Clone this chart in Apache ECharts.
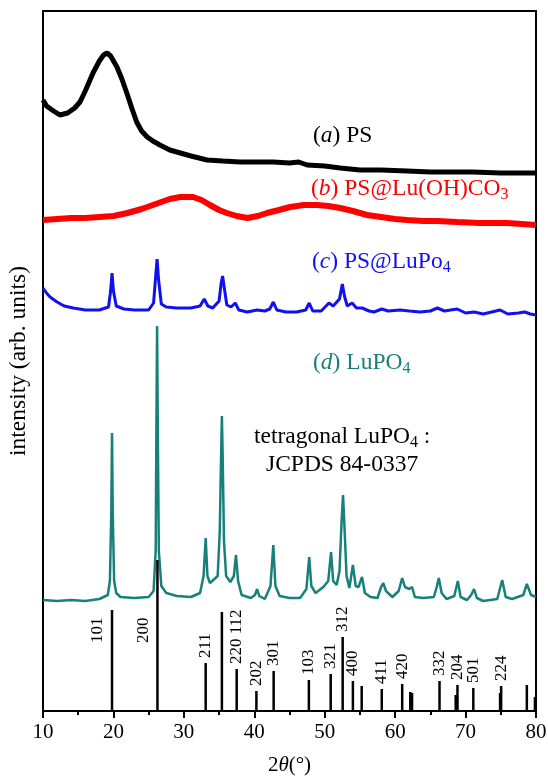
<!DOCTYPE html>
<html>
<head>
<meta charset="utf-8">
<script src="https://cdn.jsdelivr.net/npm/echarts@6/dist/echarts.min.js"></script>
<style>
  html, body { margin: 0; padding: 0; background: #fff; }
  #xrd-chart { width: 548px; height: 776px; }
</style>
</head>
<body>
<div id="xrd-chart"></div>
<script>
// x ticks
const xTicks = [10, 20, 30, 40, 50, 60, 70, 80];

// (a) PS, [2theta, intensity]
const psPoints = [
  [10, 611], [10.5, 605], [11.5, 600], [12.4, 596], [13.5, 598], [14.5, 603], [15.25, 609],
  [16, 620], [17.1, 638], [18, 650], [18.6, 656], [19.1, 658], [19.6, 655], [20.5, 644],
  [21.2, 632], [21.9, 618], [22.6, 603], [23.3, 589], [24, 580], [24.8, 574], [25.6, 570],
  [26.6, 566], [28, 561], [29.5, 558], [31, 555], [33.3, 551], [35.5, 550], [38, 549],
  [40, 549], [42.7, 549], [45, 548], [46.3, 549], [47.5, 546], [50, 545], [52.2, 543],
  [55, 541], [58, 541], [61.7, 540], [65, 539], [68, 539], [71, 539], [75, 538], [78, 538], [80, 538]
];

// (b) PS@Lu(OH)CO3
const psLuOHCO3Points = [
  [10, 491], [12, 492], [14, 493], [16, 493], [18, 494], [20, 495], [22, 498], [24, 502],
  [26, 507], [28, 512], [29.5, 514], [31.3, 514], [32.5, 511], [33.7, 506], [35, 501],
  [36.1, 498], [37.5, 495], [39, 493], [40.5, 495], [41.8, 498], [43.5, 501], [45.1, 504],
  [47, 506], [48.9, 506], [50.5, 505], [52.2, 503], [54, 500], [56, 496], [58, 494],
  [60, 492], [61.7, 491], [64, 490], [66, 490], [68.8, 489], [72, 488], [75.9, 488], [78, 487], [80, 486]
];

// (c) PS@LuPo4
const psLuPO4Points = [
  [10, 423], [10.5, 418], [11, 414], [12, 409], [13, 405], [14.3, 403], [16, 401], [18, 401],
  [19.3, 404], [19.6, 420], [19.8, 438], [20.0, 420], [20.4, 405], [21.5, 402], [23, 401],
  [25, 401], [25.7, 408], [26.0, 435], [26.2, 452], [26.4, 432], [26.8, 407], [27.5, 404],
  [29, 403], [31, 403], [32.3, 405], [32.9, 412], [33.4, 405], [34.1, 403], [35.0, 410],
  [35.3, 428], [35.5, 435], [35.7, 425], [36.1, 406], [36.7, 404], [37.3, 408], [37.8, 401],
  [39, 399], [40.4, 401], [41.5, 400], [42.2, 402], [42.7, 409], [43.2, 401], [44.5, 399],
  [46, 399], [47.3, 401], [47.8, 408], [48.3, 400], [49.5, 400], [50.6, 408], [51.2, 405],
  [52.1, 412], [52.5, 427], [52.8, 415], [53.2, 405], [53.9, 408], [54.5, 403], [55.3, 403],
  [56.3, 400], [57, 399], [58.1, 402], [59, 400], [60.7, 401], [62, 400], [63.5, 399],
  [65, 400], [66, 403], [67, 400], [68.8, 402], [70, 398], [71.2, 399], [72.5, 397],
  [74.9, 401], [76, 397], [77.5, 398], [78.4, 399], [79.2, 397], [80, 396]
];

// (d) LuPO4
const luPO4Points = [
  [10, 111], [12, 110], [14, 111], [16, 110], [18, 112], [19.2, 116], [19.5, 130], [19.7, 200],
  [19.8, 278], [19.9, 200], [20.1, 130], [20.4, 118], [21, 114], [23, 113], [25, 114],
  [25.7, 120], [26.0, 160], [26.1, 280], [26.2, 385], [26.3, 280], [26.45, 160], [26.8, 125],
  [27.5, 118], [29, 115], [31, 114], [32.3, 118], [32.8, 135], [33.1, 173], [33.35, 135],
  [33.7, 128], [34.8, 135], [35.1, 180], [35.3, 260], [35.4, 295], [35.5, 260], [35.7, 170],
  [36.0, 135], [36.6, 129], [37.1, 135], [37.4, 156], [37.7, 130], [38.2, 116], [39.5, 113],
  [40.1, 116], [40.4, 122], [40.7, 115], [41.5, 112], [42.3, 125], [42.7, 166], [43.0, 125],
  [43.6, 115], [45, 113], [46.5, 113], [47.4, 122], [47.8, 154], [48.1, 125], [48.7, 118],
  [49.8, 124], [50.5, 130], [50.9, 159], [51.2, 130], [51.7, 126], [52.1, 140], [52.4, 190],
  [52.6, 216], [52.8, 185], [53.1, 135], [53.5, 123], [54.0, 146], [54.4, 125], [54.8, 124],
  [55.3, 134], [55.7, 118], [56.5, 114], [57.5, 113], [58.0, 124], [58.3, 128], [58.7, 120],
  [59.6, 114], [60.5, 120], [61.0, 133], [61.4, 124], [62.0, 122], [62.4, 124], [62.8, 114],
  [64, 113], [65.5, 114], [65.9, 124], [66.2, 133], [66.6, 118], [67.3, 112], [68.4, 115],
  [68.9, 130], [69.3, 114], [70.2, 111], [70.8, 116], [71.2, 122], [71.6, 113], [72.5, 110],
  [74.5, 112], [75.2, 131], [75.7, 114], [76.6, 112], [78.2, 116], [78.7, 127], [79.3, 116], [80, 114]
];

// JCPDS 84-0337 reference lines
const stickAngles = [19.8, 26.25, 33.1, 35.4, 37.5, 40.3, 42.75, 47.75, 50.85, 52.55, 54.0, 55.25,
  58.1, 61.0, 62.15, 62.4, 66.3, 68.6, 68.85, 71.1, 74.9, 75.05, 78.7, 79.85];
const stickHeights = [101, 151, 48, 99, 42, 20, 40, 31, 37, 74, 30, 25,
  22, 27, 19, 18, 30, 16, 26, 23, 18, 25, 26, 14];
const stickLabels = ['101', '200', '211', '', '220 112', '202', '301', '103', '321', '312', '400', '',
  '411', '420', '', '', '332', '', '204', '501', '', '224', '', ''];

const serif = '"Liberation Serif", "Times New Roman", serif';
const noteFont = '23.5px ' + serif;
const noteItalic = 'italic 23.5px ' + serif;
const subFont = '16px ' + serif;

const chart = echarts.init(document.getElementById('xrd-chart'));

const option = {
  animation: false,
  grid: {
    left: 43, right: 12, top: 11, bottom: 65,
    outerBoundsMode: 'none',
    show: true, borderColor: '#000', borderWidth: 2
  },
  xAxis: {
    type: 'value',
    min: 10, max: 80, interval: 10,
    axisLine: { lineStyle: { color: '#000', width: 2 } },
    axisTick: { show: true, inside: false, length: 7, lineStyle: { color: '#000', width: 2 } },
    minorTick: { show: true, splitNumber: 2, length: 4, lineStyle: { color: '#000', width: 2 } },
    splitLine: { show: false },
    axisLabel: {
      color: '#000', fontFamily: serif, fontSize: 21, margin: 11,
      formatter: (v) => (xTicks.includes(v) ? String(v) : '')
    },
    name: '2{it|θ}(°)',
    nameLocation: 'middle',
    nameGap: 44,
    nameTextStyle: {
      color: '#000', fontFamily: serif, fontSize: 21,
      rich: { it: { fontStyle: 'italic', fontFamily: serif, fontSize: 21, color: '#000' } }
    }
  },
  yAxis: {
    type: 'value',
    min: 0, max: 700,
    axisLine: { show: true, lineStyle: { color: '#000', width: 2 } },
    axisTick: { show: false },
    axisLabel: { show: false },
    splitLine: { show: false },
    name: 'intensity (arb. units)',
    nameLocation: 'middle',
    nameGap: 12,
    nameTextStyle: { color: '#000', fontFamily: serif, fontSize: 23.5 }
  },
  series: [
    {
      name: 'PS', type: 'line', data: psPoints, showSymbol: false,
      lineStyle: { color: '#000', width: 5 }, itemStyle: { color: '#000' }
    },
    {
      name: 'PS@Lu(OH)CO3', type: 'line', data: psLuOHCO3Points, showSymbol: false,
      lineStyle: { color: '#ff0000', width: 6 }, itemStyle: { color: '#ff0000' }
    },
    {
      name: 'PS@LuPo4', type: 'line', data: psLuPO4Points, showSymbol: false,
      lineStyle: { color: '#1010f0', width: 3 }, itemStyle: { color: '#1010f0' }
    },
    {
      name: 'LuPO4', type: 'line', data: luPO4Points, showSymbol: false,
      lineStyle: { color: '#18807a', width: 2.5 }, itemStyle: { color: '#18807a' }
    },
    {
      name: 'JCPDS', type: 'custom', z: 5, clip: false,
      data: stickAngles.map((a, i) => [a, stickHeights[i]]),
      encode: { x: 0, y: 1 },
      renderItem: function (params, api) {
        const x = api.value(0);
        const h = api.value(1);
        const p0 = api.coord([x, 0]);
        const p1 = api.coord([x, h]);
        const children = [{
          type: 'line',
          shape: { x1: p0[0], y1: p0[1], x2: p1[0], y2: p1[1] },
          style: { stroke: '#000', lineWidth: 2.5 }
        }];
        const label = stickLabels[params.dataIndex];
        if (label) {
          let tx = p1[0], ty = p1[1] - 5;
          if (h > 90) {
            // tall lines: hkl sits to the left of the line
            const a = api.coord([x, 68]);
            tx = a[0] - 14; ty = a[1];
          }
          children.push({
            type: 'text', x: tx, y: ty, rotation: Math.PI / 2,
            style: { text: label, font: '17px ' + serif, fill: '#000', align: 'left', verticalAlign: 'middle' }
          });
        }
        return { type: 'group', children: children };
      }
    }
  ],
  graphic: [
    {
      type: 'text', left: 313, top: 124,
      style: {
        text: '({it|a}) PS', font: noteFont, fill: '#000',
        rich: { it: { font: noteItalic, fill: '#000' } }
      }
    },
    {
      type: 'text', left: 311, top: 177,
      style: {
        text: '({it|b}) PS@Lu(OH)CO{sub|3}', font: noteFont, fill: '#ff0000',
        rich: {
          it: { font: noteItalic, fill: '#ff0000' },
          sub: { font: subFont, fill: '#ff0000', verticalAlign: 'bottom', padding: [12, 0, 0, 0] }
        }
      }
    },
    {
      type: 'text', left: 312, top: 250,
      style: {
        text: '({it|c}) PS@LuPo{sub|4}', font: noteFont, fill: '#1010f0',
        rich: {
          it: { font: noteItalic, fill: '#1010f0' },
          sub: { font: subFont, fill: '#1010f0', verticalAlign: 'bottom', padding: [12, 0, 0, 0] }
        }
      }
    },
    {
      type: 'text', left: 313, top: 351,
      style: {
        text: '({it|d}) LuPO{sub|4}', font: noteFont, fill: '#18807a',
        rich: {
          it: { font: noteItalic, fill: '#18807a' },
          sub: { font: subFont, fill: '#18807a', verticalAlign: 'bottom', padding: [12, 0, 0, 0] }
        }
      }
    },
    {
      type: 'text', left: 254, top: 425,
      style: {
        text: 'tetragonal LuPO{sub|4} :', font: noteFont, fill: '#000',
        rich: {
          sub: { font: subFont, fill: '#000', verticalAlign: 'bottom', padding: [12, 0, 0, 0] }
        }
      }
    },
    {
      type: 'text', left: 266, top: 453,
      style: { text: 'JCPDS 84-0337', font: noteFont, fill: '#000' }
    }
  ]
};

chart.setOption(option);
window.onresize = function () {
  chart.resize();
};
</script>
</body>
</html>
